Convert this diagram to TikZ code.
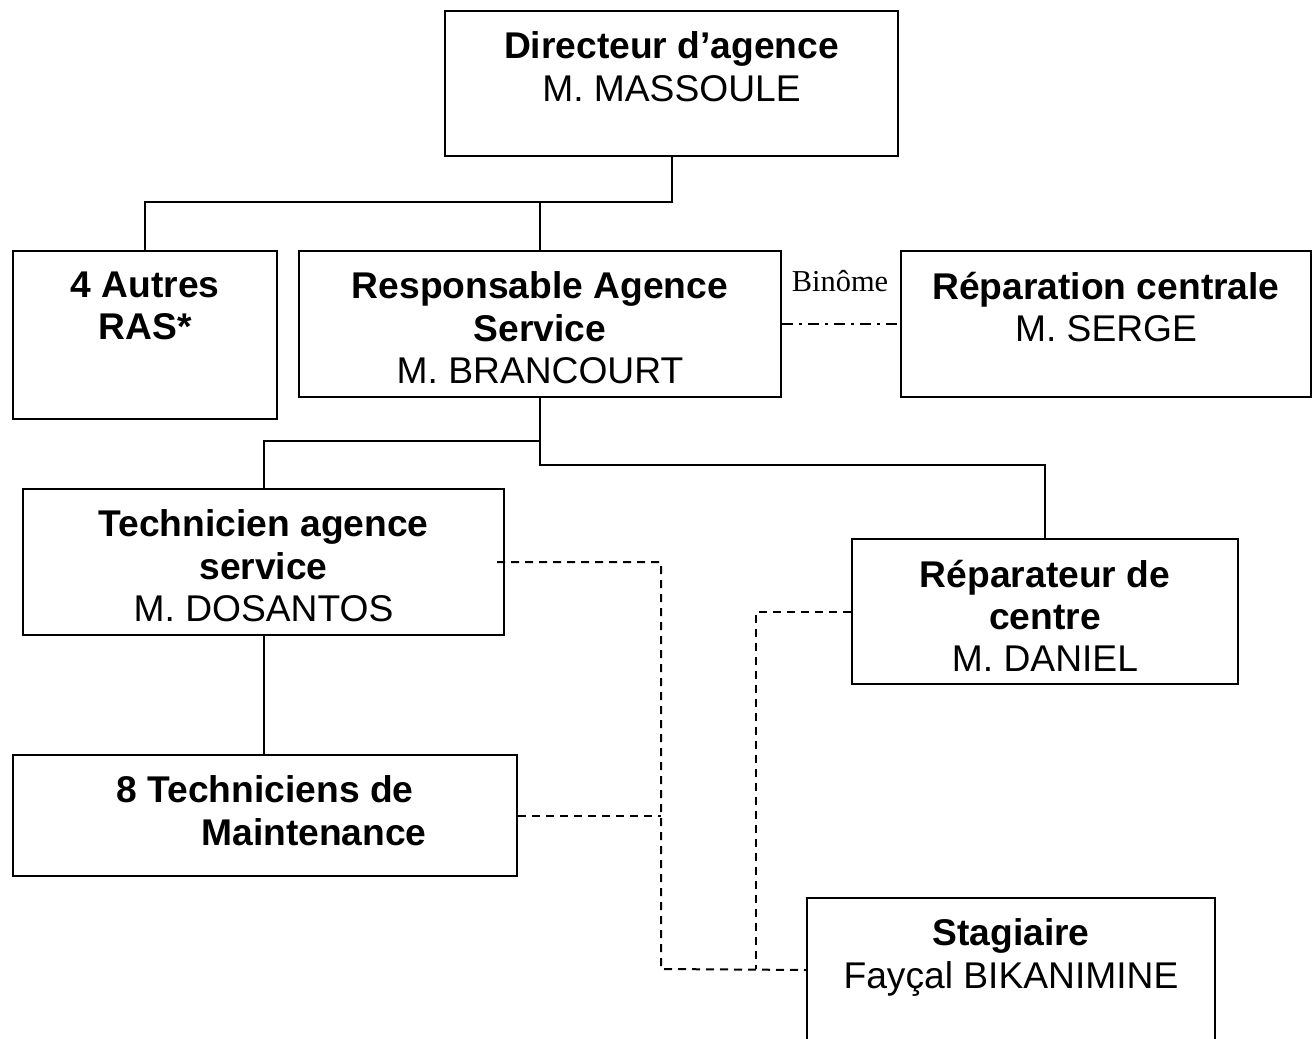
\documentclass[tikz,border=0pt]{standalone}
\usepackage{fontspec}
\setmainfont{Liberation Sans}
\newfontfamily\binfont{Liberation Serif}

\begin{document}
\begin{tikzpicture}[x=0.5pt, y=-0.5pt, line width=1pt]
\tikzstyle{box}=[draw, rectangle, inner sep=0pt, anchor=north west]
\tikzstyle{txt}=[anchor=north, inner sep=0pt, align=center, font=\fontsize{18.6}{21.2}\selectfont]
\tikzstyle{lien}=[dash pattern=on 4pt off 3pt]
\useasboundingbox (0,0) rectangle (1314,1039);
% boxes
\node (dir) [box, minimum width=226.5pt, minimum height=72.5pt] at (444,10) {};
\node (autres) [box, minimum width=132pt, minimum height=84pt] at (12,250) {};
\node (resp) [box, minimum width=241pt, minimum height=73pt] at (298,250) {};
\node (repz) [box, minimum width=205pt, minimum height=73pt] at (900,250) {};
\node (tech) [box, minimum width=240.5pt, minimum height=73pt] at (22,488) {};
\node (repc) [box, minimum width=193pt, minimum height=72.5pt] at (851,538) {};
\node (maint) [box, minimum width=252pt, minimum height=60.5pt] at (12,754) {};
\node (stag) [box, minimum width=204pt, minimum height=72pt] at (806,897) {};
% texts
\node (dirtext) [txt] at ([yshift=-10.4pt]dir.north) {\textbf{Directeur d’agence}\\M. MASSOULE};
\node (autrestext) [txt] at ([yshift=-10.4pt]autres.north) {\textbf{4 Autres}\\\textbf{RAS*}};
\node (resptext) [txt] at ([yshift=-10.4pt]resp.north) {\textbf{Responsable Agence}\\\textbf{Service}\\M. BRANCOURT};
\node (repztext) [txt] at ([yshift=-10.4pt]repz.north) {\textbf{Réparation centrale}\\M. SERGE};
\node (techtext) [txt] at ([yshift=-10.4pt]tech.north) {\textbf{Technicien agence}\\\textbf{service}\\M. DOSANTOS};
\node (repctext) [txt] at ([yshift=-10.4pt]repc.north) {\textbf{Réparateur de}\\\textbf{centre}\\M. DANIEL};
\node (mainttext) [txt] at ([yshift=-10.4pt]maint.north) {\textbf{8 Techniciens de}\\\hspace*{49pt}\textbf{Maintenance}};
\node (stagtext) [txt] at ([yshift=-10.4pt]stag.north) {\textbf{Stagiaire}\\Fayçal BIKANIMINE};
\node (binome) at (840,281) {\binfont\fontsize{15.2}{18}\selectfont Binôme};
% hierarchy
\coordinate (j1) at (dir.south |- 0,202);
\coordinate (j2) at (resp.south |- 0,441);
\coordinate (j3) at (resp.south |- 0,465);
\draw (dir.south) -- (j1) -| (autres.north);
\draw (j1) -| (resp.north);
\draw (resp.south) -- (j3) -| (repc.north);
\draw (j2) -| (tech.north);
\draw (tech.south) -- (tech.south |- maint.north);
\draw[dash pattern=on 5.5pt off 3pt on 1.5pt off 3pt] (resp.east) -- (repz.west);
% stagiaire
\coordinate (k1) at (661,969);
\coordinate (k2) at (756,969);
\draw[lien] ([xshift=-4pt]tech.east) -| (k1) -- (stag.west);
\draw[lien] (maint.east) -- (maint.east -| k1);
\draw[lien] (repc.west) -| (k2);
\end{tikzpicture}
\end{document}
